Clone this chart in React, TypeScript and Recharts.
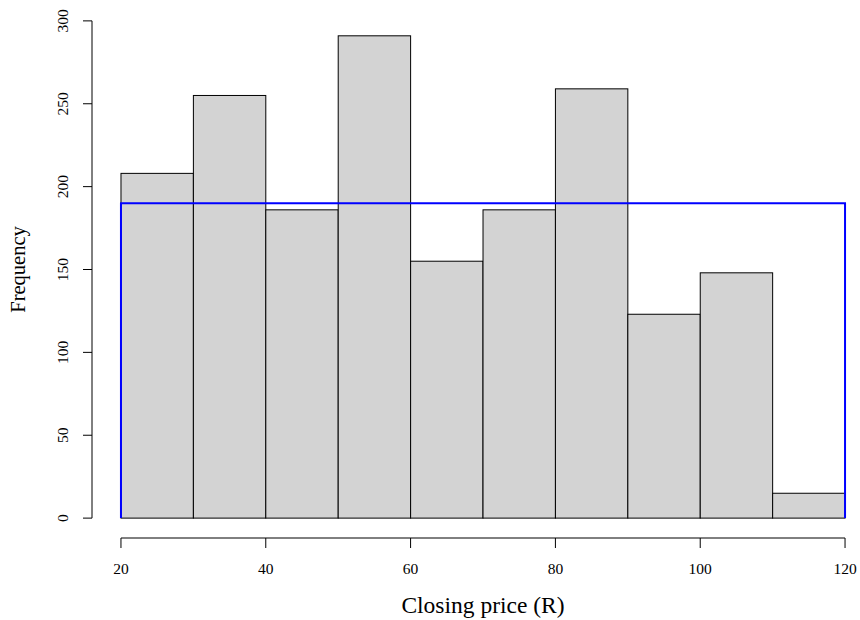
import React from 'react';
import { ComposedChart, Bar, Line, XAxis, YAxis, ReferenceLine } from 'recharts';

// ---- data ----
const binStarts = [20, 30, 40, 50, 60, 70, 80, 90, 100, 110];
const binWidth = 10;
const counts = [208, 255, 186, 291, 155, 186, 259, 123, 148, 15];
const xTicks = [20, 40, 60, 80, 100, 120];
const yTicks = [0, 50, 100, 150, 200, 250, 300];
const uniformX = [20, 20, 120, 120];
const uniformY = [0, 190, 190, 0];
const xLabel = 'Closing price (R)';
const yLabel = 'Frequency';

// ---- layout ----
const W = 860;
const H = 620;
const MARGIN = { top: 1, right: -14, bottom: 0, left: 0 };
const Y_AXIS_W = 92;
const X_AXIS_H = 82;
const xDomain: [number, number] = [16, 124];
const yDomain: [number, number] = [-12, 312];
const plotWidth = W - Y_AXIS_W - MARGIN.left - MARGIN.right;
const barPx = (plotWidth * binWidth) / (xDomain[1] - xDomain[0]);
const FONT = '"Liberation Serif", "Times New Roman", serif';

const barData = binStarts.map((s, i) => ({ x: s + binWidth / 2, count: counts[i] }));
const lineData = uniformX.map((x, i) => ({ x, y: uniformY[i] }));

const XTick = (props: any) => {
  const { x, y, payload } = props;
  return (
    <text x={x} y={y + 24} textAnchor="middle" fontFamily={FONT} fontSize={15.5} fill="#000">
      {payload.value}
    </text>
  );
};

const YTick = (props: any) => {
  const { x, y, payload } = props;
  const tx = x - 13;
  return (
    <text
      x={tx}
      y={y}
      transform={`rotate(-90 ${tx} ${y})`}
      textAnchor="middle"
      fontFamily={FONT}
      fontSize={15.5}
      fill="#000"
    >
      {payload.value}
    </text>
  );
};

// Histogram bin: centred on the scaled bin midpoint, one bin wide.
const BinShape = (props: any) => {
  const { x, y, width, height } = props;
  if (height == null || width == null) return null;
  const cx = x + width / 2;
  return (
    <rect
      x={cx - barPx / 2}
      y={y}
      width={barPx}
      height={height}
      fill="#d3d3d3"
      stroke="#000"
      strokeWidth={1}
    />
  );
};

export default function App() {
  return (
    <div style={{ position: 'absolute', left: 0, top: 0, width: W, height: H, background: '#fff' }}>
      <ComposedChart width={W} height={H} data={barData} margin={MARGIN}>
        <XAxis
          dataKey="x"
          type="number"
          domain={xDomain}
          allowDataOverflow
          ticks={xTicks}
          height={X_AXIS_H}
          axisLine={false}
          tickLine={{ stroke: '#000' }}
          stroke="#000"
          tickSize={10}
          tick={<XTick />}
          interval={0}
          label={{
            value: xLabel,
            position: 'insideBottom',
            offset: 7,
            style: { fontFamily: FONT, fontSize: 23.5, fill: '#000' },
          }}
        />
        <YAxis
          type="number"
          domain={yDomain}
          allowDataOverflow
          ticks={yTicks}
          width={Y_AXIS_W}
          axisLine={false}
          tickLine={{ stroke: '#000' }}
          stroke="#000"
          tickSize={9}
          tick={<YTick />}
          interval={0}
          label={{
            value: yLabel,
            angle: -90,
            position: 'insideLeft',
            offset: 18,
            style: { fontFamily: FONT, fontSize: 20.5, fill: '#000', textAnchor: 'middle' },
          }}
        />
        <Bar
          dataKey="count"
          fill="#d3d3d3"
          stroke="#000"
          strokeWidth={1}
          shape={<BinShape />}
          isAnimationActive={false}
        />
        <Line
          data={lineData}
          dataKey="y"
          type="linear"
          stroke="#0000ff"
          strokeWidth={2}
          dot={false}
          activeDot={false}
          isAnimationActive={false}
        />
        <ReferenceLine
          segment={[
            { x: xTicks[0], y: yDomain[0] },
            { x: xTicks[xTicks.length - 1], y: yDomain[0] },
          ]}
          stroke="#000"
          ifOverflow="visible"
        />
        <ReferenceLine
          segment={[
            { x: xDomain[0], y: yTicks[0] },
            { x: xDomain[0], y: yTicks[yTicks.length - 1] },
          ]}
          stroke="#000"
          ifOverflow="visible"
        />
      </ComposedChart>
    </div>
  );
}
